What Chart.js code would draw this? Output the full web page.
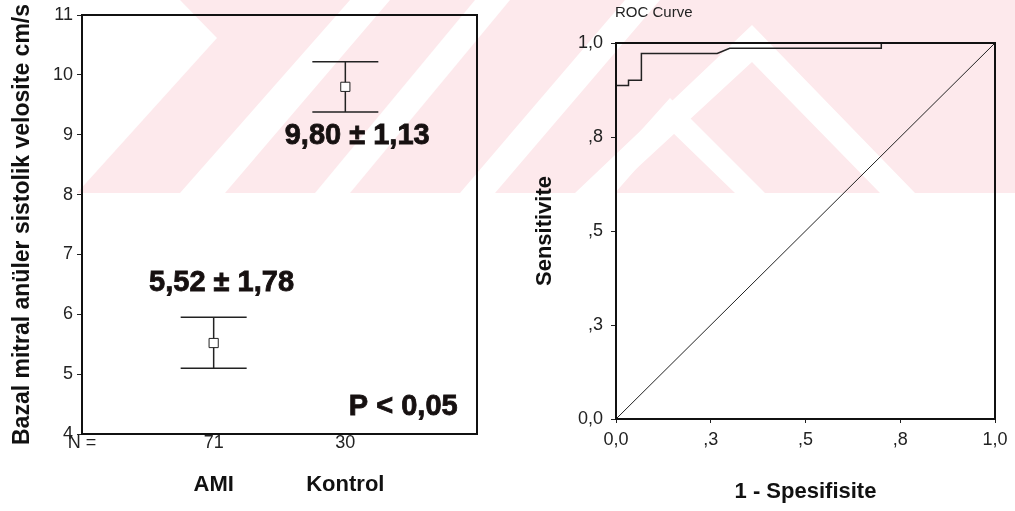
<!DOCTYPE html>
<html>
<head>
<meta charset="utf-8">
<script src="https://cdn.jsdelivr.net/npm/chart.js@4.4.1/dist/chart.umd.min.js"></script>
<style>
  body { margin: 0; background: #fff; }
  #wrap { position: relative; width: 1015px; height: 511px; overflow: hidden; }
  #wm { position: absolute; left: 0; top: 0; }
  #velChart { position: absolute; left: 0; top: 0; }
  #rocChart { position: absolute; left: 500px; top: 0; }
</style>
</head>
<body>
<div id="wrap">
  <!-- soluk filigran -->
  <svg id="wm" width="1015" height="511">
    <rect x="0" y="0" width="1015" height="193" fill="#fde9ec"/>
    <g fill="#fff">
      <polygon points="0,0 180,0 217,38 77,193 0,193"/>
      <polygon points="180,193 225,193 390,0 350,0"/>
      <polygon points="315,193 350,193 510,0 475,0"/>
      <polygon points="460,193 495,193 660,0 625,0"/>
      <polygon points="575,193 752,25 915,193 880,193 752,62 610,193"/>
      <polygon points="585,193 670,98 765,193 735,193 670,130 615,193"/>
    </g>
  </svg>
  <canvas id="velChart" width="500" height="511"></canvas>
  <canvas id="rocChart" width="515" height="511"></canvas>
</div>
<script>
// ---- veriler ----
const groups = ["AMI", "Kontrol"];
const groupN = ["71", "30"];
const means = [5.52, 9.80];
const sds = [1.78, 1.13];
const ciLow = [5.10, 9.38];
const ciHigh = [5.95, 10.22];
const pText = "P < 0,05";

const rocFpr  = [0, 0,     0.033, 0.033, 0.067, 0.067, 0.267, 0.300, 0.700, 0.700, 1];
const rocSens = [0, 0.887, 0.887, 0.901, 0.901, 0.972, 0.972, 0.986, 0.986, 1.000, 1];
const refLine = [0, 1];
const rocTickLabels = ["0,0", ",3", ",5", ",8", "1,0"];

Chart.defaults.font.family = "'Liberation Sans', Arial, sans-serif";
Chart.defaults.color = "#222";
Chart.defaults.animation = false;

const fmt = v => v.toFixed(2).replace(".", ",");
const bold = "bold 29px 'Liberation Sans', Arial, sans-serif";

// çerçeve
const frame = {
    id: "frame",
    afterDraw(chart) {
        const { ctx, chartArea: a } = chart;
        ctx.save();
        ctx.strokeStyle = "#111";
        ctx.lineWidth = 2;
        ctx.strokeRect(a.left, a.top, a.right - a.left, a.bottom - a.top);
        ctx.restore();
    }
};

// hata çubukları + yazılar
const errorBars = {
    id: "errorBars",
    beforeDatasetsDraw(chart) {
        const { ctx, scales: { x, y } } = chart;
        ctx.save();
        ctx.strokeStyle = "#222";
        ctx.lineWidth = 1.5;
        means.forEach((m, i) => {
            const px = x.getPixelForValue(i + 1);
            const top = y.getPixelForValue(ciHigh[i]);
            const bot = y.getPixelForValue(ciLow[i]);
            ctx.beginPath();
            ctx.moveTo(px, top); ctx.lineTo(px, bot);
            ctx.moveTo(px - 33, top); ctx.lineTo(px + 33, top);
            ctx.moveTo(px - 33, bot); ctx.lineTo(px + 33, bot);
            ctx.stroke();
        });
        ctx.restore();
    },
    afterDraw(chart) {
        const { ctx, scales: { x, y } } = chart;
        const put = (txt, vx, vy) => {
            const px = x.getPixelForValue(vx), py = y.getPixelForValue(vy);
            ctx.strokeText(txt, px, py);
            ctx.fillText(txt, px, py);
        };
        ctx.save();
        ctx.font = bold;
        ctx.fillStyle = "#161010";
        ctx.strokeStyle = "#161010";
        ctx.lineWidth = 0.8;
        ctx.textAlign = "center";
        ctx.textBaseline = "middle";
        // AMI etiketi çubuğun üstünde, Kontrol etiketi altında
        put(fmt(means[0]) + " ± " + fmt(sds[0]), 1.06, 6.53);
        put(fmt(means[1]) + " ± " + fmt(sds[1]), 2.09, 8.98);
        put(pText, 2.44, 4.45);
        ctx.restore();
    }
};

new Chart(document.getElementById("velChart"), {
    type: "scatter",
    data: {
        datasets: [{
            data: means.map((m, i) => ({ x: i + 1, y: m })),
            pointStyle: "rect",
            pointRadius: 6.5,
            backgroundColor: "#fff",
            borderColor: "#222",
            borderWidth: 1
        }]
    },
    options: {
        responsive: false,
        layout: { padding: { top: 15, right: 23, left: 0, bottom: 0 } },
        plugins: { legend: { display: false }, tooltip: { enabled: false } },
        scales: {
            x: {
                type: "linear", position: "bottom", min: 0, max: 3,
                afterFit: s => { s.height = 20; },
                ticks: { stepSize: 1, padding: 0, font: { size: 18, lineHeight: 1 },
                         callback: v => ["N ="].concat(groupN)[v] || "" },
                grid: { drawOnChartArea: false, drawTicks: false },
                border: { color: "#111", width: 2 }
            },
            x2: {
                type: "linear", position: "bottom", min: 0, max: 3,
                afterFit: s => { s.height = 57; },
                ticks: { stepSize: 1, padding: 10, color: "#111", font: { size: 22, weight: "bold" },
                         callback: v => [""].concat(groups)[v] || "" },
                grid: { display: false },
                border: { display: false }
            },
            y: {
                min: 4, max: 11,
                afterFit: s => { s.width = 82; },
                ticks: { stepSize: 1, padding: 4, font: { size: 18 } },
                grid: { drawOnChartArea: false, tickLength: 5, color: "#222" },
                border: { color: "#111", width: 2 },
                title: {
                    display: true,
                    text: "Bazal mitral anüler sistolik velosite cm/s",
                    font: { size: 23, weight: "bold" },
                    padding: { top: 9 },
                    color: "#111"
                }
            }
        }
    },
    plugins: [errorBars, frame]
});

// ROC başlığı
const rocTitle = {
    id: "rocTitle",
    afterDraw(chart) {
        const { ctx, chartArea: a } = chart;
        ctx.save();
        ctx.font = "15px 'Liberation Sans', Arial, sans-serif";
        ctx.fillStyle = "#222";
        ctx.textBaseline = "middle";
        ctx.fillText("ROC Curve", a.left - 1, 13);
        ctx.restore();
    }
};

new Chart(document.getElementById("rocChart"), {
    type: "scatter",
    data: {
        datasets: [{
            data: rocFpr.map((f, i) => ({ x: f, y: rocSens[i] })),
            showLine: true,
            borderColor: "#222",
            borderWidth: 1.5,
            pointRadius: 0
        }, {
            data: refLine.map(v => ({ x: v, y: v })),
            showLine: true,
            borderColor: "#222",
            borderWidth: 1,
            pointRadius: 0
        }]
    },
    options: {
        responsive: false,
        layout: { padding: { top: 43, right: 20, left: 0, bottom: 0 } },
        plugins: { legend: { display: false }, tooltip: { enabled: false } },
        scales: {
            x: {
                min: 0, max: 1,
                afterFit: s => { s.height = 92; },
                ticks: { stepSize: 0.25, padding: 6, font: { size: 18 },
                         callback: (v, i) => rocTickLabels[i] },
                grid: { drawOnChartArea: false, tickLength: 4, color: "#222" },
                border: { color: "#111", width: 2 },
                title: {
                    display: true, text: "1 - Spesifisite",
                    font: { size: 22, weight: "bold" },
                    padding: { bottom: 6 }, color: "#111"
                }
            },
            y: {
                min: 0, max: 1,
                afterFit: s => { s.width = 116; },
                ticks: { stepSize: 0.25, padding: 8, font: { size: 18 },
                         callback: (v, i) => rocTickLabels[i] },
                grid: { drawOnChartArea: false, tickLength: 5, color: "#222" },
                border: { color: "#111", width: 2 },
                title: {
                    display: true, text: "Sensitivite",
                    font: { size: 22, weight: "bold" },
                    padding: { top: 32 }, color: "#111"
                }
            }
        }
    },
    plugins: [rocTitle, frame]
});
</script>
</body>
</html>
